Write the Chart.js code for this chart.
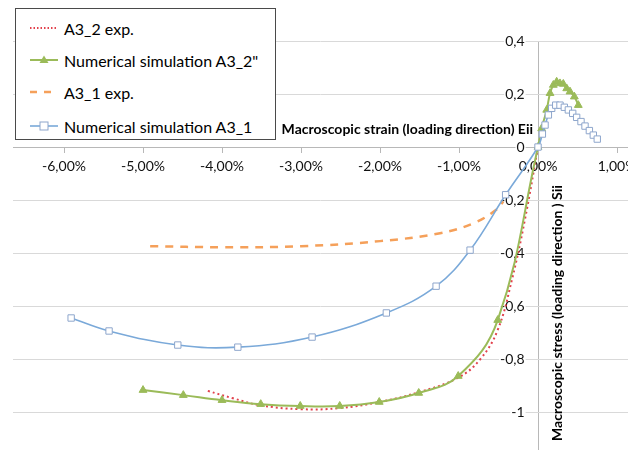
<!DOCTYPE html>
<html><head><meta charset="utf-8">
<script src="https://cdn.jsdelivr.net/npm/chart.js@4.4.1/dist/chart.umd.min.js"></script>
<style>
html,body{margin:0;padding:0;background:#fff;}
#wrap{position:relative;width:628px;height:450px;overflow:hidden;}
#legend{position:absolute;left:15px;top:8px;width:259px;height:130px;border:1px solid #4a4a4a;background:#fff;font-family:Lato,sans-serif;font-size:16px;color:#000;}
.row{position:absolute;left:0;height:20px;display:flex;align-items:center;}
.row svg{margin-left:14px;display:block;}
.row span{margin-left:4px;white-space:nowrap;}
</style></head>
<body><div id="wrap"><canvas id="c" width="628" height="450"></canvas><div id="legend"></div></div>
<script>
// ---- data ----
const seriesLabels = ['A3_2 exp.', 'Numerical simulation A3_2"', 'A3_1 exp.', 'Numerical simulation A3_1'];
const xTitle = 'Macroscopic strain (loading direction) Eii';
const yTitle = 'Macroscopic stress (loading direction ) Sii';

const expA32X = [-4.18,-3.86,-3.52,-3.01,-2.51,-2.01,-1.51,-1.01,-0.73,-0.51,-0.33,-0.17,0];
const expA32Y = [-0.92,-0.948,-0.974,-0.989,-0.985,-0.962,-0.925,-0.87,-0.80,-0.69,-0.50,-0.28,0];

const simA32X = [-5.00,-4.49,-4.00,-3.51,-3.01,-2.51,-2.01,-1.51,-1.01,-0.51,0,0.046,0.11,0.152,0.194,0.236,0.278,0.32,0.363,0.405,0.46,0.51];
const simA32Y = [-0.917,-0.936,-0.955,-0.970,-0.977,-0.977,-0.962,-0.928,-0.864,-0.653,0,0.070,0.14,0.203,0.234,0.246,0.240,0.238,0.221,0.209,0.190,0.158];

const expA31X = [-4.91,-4.0,-3.0,-2.0,-1.24,-0.82,-0.52,-0.44];
const expA31Y = [-0.374,-0.378,-0.374,-0.355,-0.325,-0.288,-0.235,-0.205];

const simA31X = [-5.91,-5.43,-4.56,-3.80,-2.86,-1.92,-1.29,-0.86,-0.41,0,0.055,0.089,0.131,0.173,0.224,0.278,0.333,0.384,0.439,0.489,0.544,0.595,0.65,0.70,0.75];
const simA31Y = [-0.645,-0.694,-0.747,-0.755,-0.717,-0.626,-0.525,-0.389,-0.18,0,0.049,0.083,0.121,0.146,0.158,0.158,0.150,0.140,0.127,0.112,0.096,0.079,0.062,0.045,0.030];

const xMin = -6.646, xMax = 1.139, xStep = 1;
const yMin = -1.143, yMax = 0.4, yStep = 0.2;

// ---- styles ----
const RED = '#e2414c', GREEN = '#9bbb59', ORANGE = '#f5a05a', BLUE = '#7aa9d9', BLUEMK = '#8ea6cc';
const toPts = (xs, ys) => xs.map((x, i) => ({x, y: ys[i]}));

const datasets = [
  {label: seriesLabels[0], data: toPts(expA32X, expA32Y), borderColor: RED, borderWidth: 2, borderDash: [2, 3], pointRadius: 0, tension: 0.4, order: 4},
  {label: seriesLabels[1], data: toPts(simA32X, simA32Y), borderColor: GREEN, borderWidth: 2, pointStyle: 'triangle', pointRadius: 4.5, pointBackgroundColor: GREEN, pointBorderColor: GREEN, pointBorderWidth: 1, tension: 0.4, order: 3},
  {label: seriesLabels[2], data: toPts(expA31X, expA31Y), borderColor: ORANGE, borderWidth: 2.5, borderDash: [8, 7], pointRadius: 0, tension: 0.4, order: 2},
  {label: seriesLabels[3], data: toPts(simA31X, simA31Y), borderColor: BLUE, borderWidth: 1.6, pointStyle: 'rect', pointRadius: 4.5, pointBackgroundColor: '#fff', pointBorderColor: BLUEMK, pointBorderWidth: 1, tension: 0.4, order: 1}
];

const axisTitles = {
  id: 'axisTitles',
  afterDraw(chart) {
    const ctx = chart.ctx, xs = chart.scales.x, ys = chart.scales.y;
    const x0 = xs.getPixelForValue(0), y0 = ys.getPixelForValue(0);
    ctx.save();
    ctx.fillStyle = '#000';
    ctx.font = 'bold 14px Lato, sans-serif';
    ctx.textAlign = 'right';
    ctx.textBaseline = 'middle';
    ctx.fillText(xTitle, x0 - 5, y0 - 18);
    ctx.translate(x0 + 19, 441);
    ctx.rotate(-Math.PI / 2);
    ctx.textAlign = 'left';
    ctx.fillText(yTitle, 0, 0);
    ctx.restore();
  }
};

const noPad = s => { s.paddingLeft = 0; s.paddingRight = 0; s.paddingTop = 0; s.paddingBottom = 0; };

const chart = new Chart(document.getElementById('c'), {
  type: 'scatter',
  data: {datasets: datasets.map(d => Object.assign({showLine: true, fill: false}, d))},
  options: {
    responsive: false, animation: false, devicePixelRatio: 1,
    layout: {autoPadding: false, padding: {left: 13, top: 41, right: 0, bottom: 0}},
    plugins: {legend: {display: false}, tooltip: {enabled: false}},
    scales: {
      x: {
        type: 'linear', min: xMin, max: xMax, position: {y: 0},
        afterFit: noPad,
        grid: {
          color: c => (c.tick && Math.abs(c.tick.value) < 1e-9) ? '#b8b8b8' : 'rgba(0,0,0,0)',
          tickColor: '#b8b8b8', tickLength: 5, lineWidth: 1
        },
        border: {display: true, color: '#b8b8b8', width: 1},
        ticks: {stepSize: xStep, includeBounds: false, padding: 6, color: '#111',
          font: {family: 'Lato', size: 14},
          maxRotation: 0, autoSkip: false,
          callback: v => v.toFixed(2).replace('.', ',') + '%'}
      },
      y: {
        type: 'linear', min: yMin, max: yMax, position: {x: -0.17},
        afterFit: noPad,
        grid: {color: '#d9d9d9', drawTicks: false, lineWidth: 1},
        border: {display: false},
        ticks: {stepSize: yStep, includeBounds: false, color: '#111',
          font: {family: 'Lato', size: 14},
          showLabelBackdrop: true, backdropColor: '#fff', backdropPadding: {x: 1, y: 0},
          callback: v => String(Math.round(v * 10) / 10).replace('.', ',')}
      }
    }
  },
  plugins: [axisTitles]
});

// ---- HTML legend ----
const legend = document.getElementById('legend');
const rowCenters = [19, 51, 83, 117];
function sampleSvg(i) {
  let s = '<svg width="30" height="14" viewBox="0 0 30 14">';
  if (i === 0) s += `<line x1="0" y1="7" x2="28" y2="7" stroke="${RED}" stroke-width="1.8" stroke-dasharray="1.5,2"/>`;
  if (i === 1) s += `<line x1="0" y1="7" x2="28" y2="7" stroke="${GREEN}" stroke-width="2"/><polygon points="14,2.5 18.5,10 9.5,10" fill="${GREEN}"/>`;
  if (i === 2) s += `<line x1="0" y1="7" x2="22" y2="7" stroke="${ORANGE}" stroke-width="2.5" stroke-dasharray="7,7"/>`;
  if (i === 3) s += `<line x1="0" y1="7" x2="28" y2="7" stroke="${BLUE}" stroke-width="1.6"/><rect x="10" y="3" width="8" height="8" fill="#fff" stroke="${BLUEMK}" stroke-width="1"/>`;
  return s + '</svg>';
}
seriesLabels.forEach((lab, i) => {
  const r = document.createElement('div');
  r.className = 'row';
  r.style.top = (rowCenters[i] - 10) + 'px';
  r.innerHTML = sampleSvg(i) + '<span></span>';
  r.querySelector('span').textContent = lab;
  legend.appendChild(r);
});
</script>
</body></html>
